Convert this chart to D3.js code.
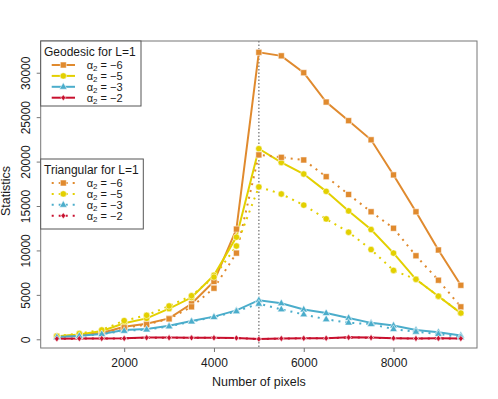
<!DOCTYPE html>
<html><head><meta charset="utf-8">
<script src="https://cdn.jsdelivr.net/npm/d3@7"></script>
<style>
body{margin:0;background:#fff}
svg{display:block}
text{font-family:"Liberation Sans",Arial,Helvetica,sans-serif;fill:#1a1a1a}
</style>
</head><body>
<svg id="c" width="498" height="399"></svg>
<script>
// ---- data ----
const pixels = [500,1000,1500,2000,2500,3000,3500,4000,4500,5000,5500,6000,6500,7000,7500,8000,8500,9000,9500];
const geoM6 = [300,500,700,1400,1750,2350,4000,6500,12400,32300,31900,30000,26700,24600,22450,18500,14350,10050,6080];
const geoM5 = [350,550,930,1800,2350,3450,4700,7200,11500,21450,19900,18600,16650,14450,12350,9700,6750,4850,2950];
const geoM3 = [250,400,600,1050,1150,1520,2050,2550,3250,4400,4050,3350,2950,2400,1850,1550,1050,800,420];
const geoM2 = [60,90,100,110,200,190,180,170,150,30,100,120,130,220,200,130,100,110,90];
const triM6 = [280,470,680,1300,1650,2300,3650,5750,9700,20750,20480,20180,18300,16300,14350,12500,9400,6650,3650];
const triM5 = [380,650,1050,2100,2700,3750,4900,7000,10500,17150,16350,15100,13550,12050,10100,7750,6750,4850,2950];
const triM3 = [230,380,580,950,1100,1450,2000,2500,3150,4000,3370,2800,2250,1870,1700,1150,850,600,230];
const triM2 = [50,80,90,100,180,170,170,160,140,20,90,110,120,200,180,120,90,100,80];
const xTicks = [2000,4000,6000,8000];
const yTicks = [0,5000,10000,15000,20000,25000,30000];
const alphaLabels = ["6","5","3","2"];

const colors = {m6:"#E08A2E", m5:"#E3D000", m3:"#4BADCB", m2:"#C8102E"};
const series = [
  {v:geoM6,c:colors.m6,sh:"square",dot:false},
  {v:geoM5,c:colors.m5,sh:"circle",dot:false},
  {v:geoM3,c:colors.m3,sh:"triangle",dot:false},
  {v:geoM2,c:colors.m2,sh:"diamond",dot:false},
  {v:triM6,c:colors.m6,sh:"square",dot:true},
  {v:triM5,c:colors.m5,sh:"circle",dot:true},
  {v:triM3,c:colors.m3,sh:"triangle",dot:true},
  {v:triM2,c:colors.m2,sh:"diamond",dot:true}
];

const svg = d3.select("#c");
const L=40.7,R=477,T=41,B=348;
const x = d3.scaleLinear().domain([140,9860]).range([L,R]);
const y = d3.scaleLinear().domain([-980,33570]).range([B,T]);

function marker(g, sh, cx, cy, col){
  let el;
  if(sh==="square") el = g.append("rect").attr("x",cx-3).attr("y",cy-3).attr("width",6).attr("height",6);
  else if(sh==="circle") el = g.append("circle").attr("cx",cx).attr("cy",cy).attr("r",3.2);
  else if(sh==="triangle") el = g.append("path").attr("d",`M${cx},${cy-4.2}L${cx+3.8},${cy+2.4}L${cx-3.8},${cy+2.4}Z`);
  else el = g.append("path").attr("d",`M${cx},${cy-3}L${cx+2.4},${cy}L${cx},${cy+3}L${cx-2.4},${cy}Z`);
  el.attr("fill",col).attr("stroke","#fff").attr("stroke-width",0.9).attr("stroke-opacity",0.6);
}

// vertical reference line
svg.append("line").attr("x1",x(5000)).attr("x2",x(5000)).attr("y1",T).attr("y2",B)
  .attr("stroke","#8a8a8a").attr("stroke-width",1.5).attr("stroke-dasharray","1.5,2");

// series
const line = d3.line().x((d,i)=>x(pixels[i])).y(d=>y(d));
const plot = svg.append("g");
series.forEach(s=>{
  plot.append("path").attr("d",line(s.v)).attr("fill","none").attr("stroke",s.c)
    .attr("stroke-width",2).attr("stroke-dasharray",s.dot?"2,5":null);
});
series.forEach(s=>{
  s.v.forEach((d,i)=>marker(plot,s.sh,x(pixels[i]),y(d),s.c));
});

// box
svg.append("rect").attr("x",L).attr("y",T).attr("width",R-L).attr("height",B-T)
  .attr("fill","none").attr("stroke","#777").attr("stroke-width",1);

// axes
const xa = svg.append("g").attr("transform",`translate(0,${B})`)
  .call(d3.axisBottom(x).tickValues(xTicks).tickSize(4).tickPadding(6).tickFormat(d3.format("d")));
xa.select(".domain").remove();
xa.selectAll("line").attr("stroke","#777");
xa.selectAll("text").attr("font-size",12).style("font-family","Liberation Sans, Arial").attr("fill","#1a1a1a");

const ya = svg.append("g").attr("transform",`translate(${L},0)`)
  .call(d3.axisLeft(y).tickValues(yTicks).tickSize(4).tickFormat(d3.format("d")));
ya.select(".domain").remove();
ya.selectAll("line").attr("stroke","#777");
ya.selectAll("text").attr("font-size",12).style("font-family","Liberation Sans, Arial").attr("fill","#1a1a1a")
  .attr("text-anchor","middle").attr("x",0).attr("y",0).attr("dy","0.35em")
  .attr("transform","translate(-15,0) rotate(-90)");

svg.append("text").attr("x",(L+R)/2).attr("y",386).attr("text-anchor","middle").attr("font-size",12.5).text("Number of pixels");
svg.append("text").attr("transform","translate(10,191) rotate(-90)").attr("text-anchor","middle").attr("font-size",12.5).text("Statistics");

// legends
function legend(x0,y0,x1,y1,title,rows,dotted){
  const g = svg.append("g");
  g.append("rect").attr("x",x0).attr("y",y0).attr("width",x1-x0).attr("height",y1-y0)
    .attr("fill","#fff").attr("stroke","#555").attr("stroke-width",1);
  g.append("text").attr("x",44).attr("y",y0+14.5).attr("font-size",12).text(title);
  rows.forEach((r,i)=>{
    const cy = y0+24+i*10.9;
    const ln = g.append("line").attr("x1",51.7).attr("x2",75).attr("y1",cy).attr("y2",cy)
      .attr("stroke",r.c).attr("stroke-width",2);
    if(dotted) ln.attr("stroke-dasharray","2,5").attr("stroke-dashoffset",0);
    marker(g,r.sh,63.3,cy,r.c);
    const t = g.append("text").attr("x",86.7).attr("y",cy+3.8).attr("font-size",11);
    t.append("tspan").text("α");
    t.append("tspan").attr("font-size",8).attr("baseline-shift","-25%").text("2");
    t.append("tspan").text(" = \u2212"+r.lab);
  });
}
const legRows = [
  {c:colors.m6,sh:"square",lab:alphaLabels[0]},
  {c:colors.m5,sh:"circle",lab:alphaLabels[1]},
  {c:colors.m3,sh:"triangle",lab:alphaLabels[2]},
  {c:colors.m2,sh:"diamond",lab:alphaLabels[3]}
];
legend(L,T,141,106,"Geodesic for L=1",legRows,false);
legend(L,159,143.3,229,"Triangular for L=1",legRows,true);
</script>
</body></html>
